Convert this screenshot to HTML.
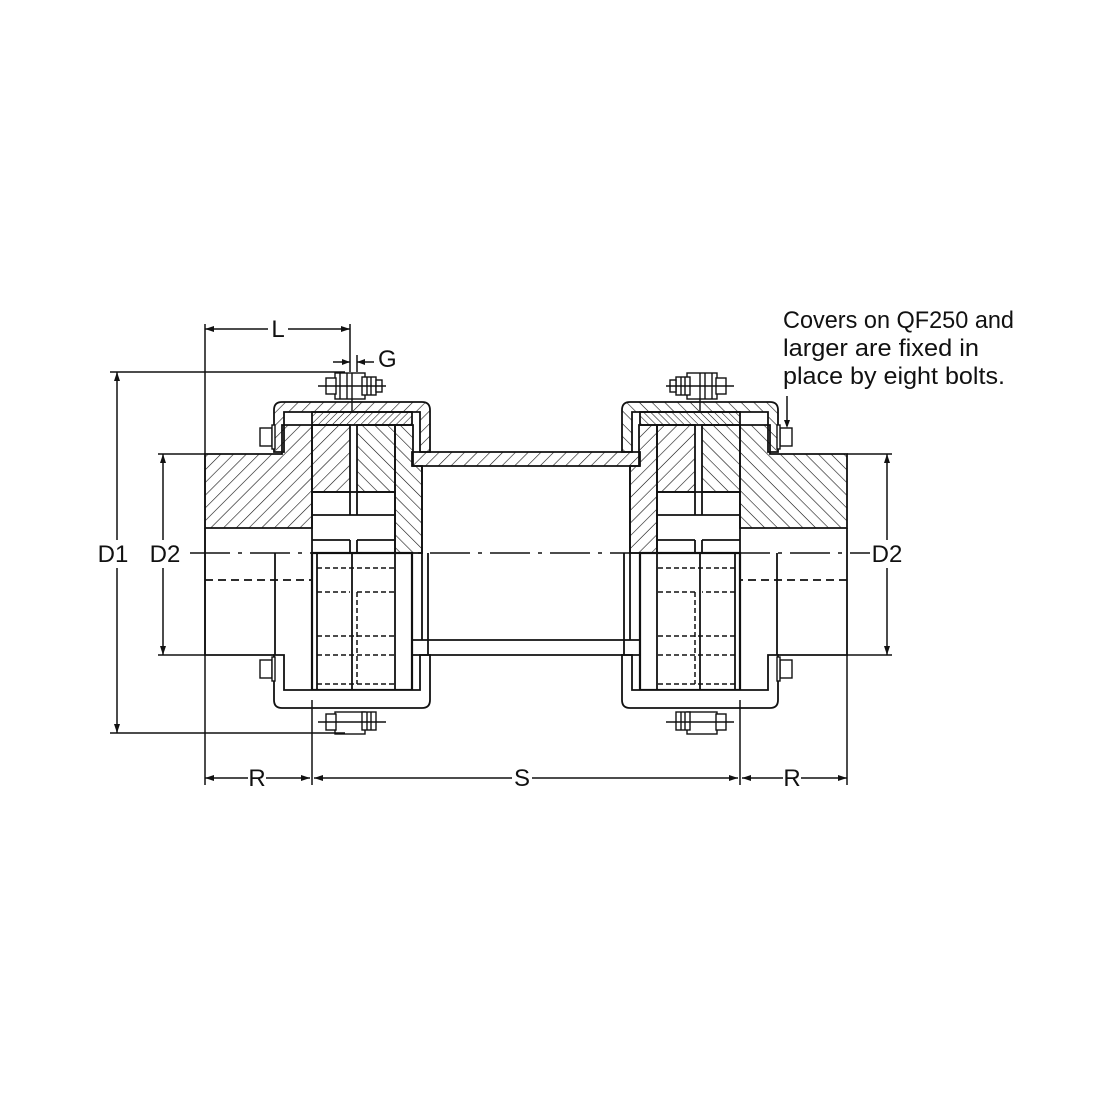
<!DOCTYPE html>
<html><head><style>
html,body{margin:0;padding:0;background:#fff;}
svg{display:block}
text{font-family:"Liberation Sans Narrow","Liberation Sans",sans-serif;fill:#111}
</style></head><body>
<svg width="1100" height="1100" viewBox="0 0 1100 1100" xmlns="http://www.w3.org/2000/svg">
<defs>
<pattern id="h1" width="9" height="9" patternUnits="userSpaceOnUse" patternTransform="rotate(45)"><line x1="0" y1="0" x2="0" y2="9" stroke="#111" stroke-width="1.2"/></pattern>
<pattern id="h2" width="9" height="9" patternUnits="userSpaceOnUse" patternTransform="rotate(-45)"><line x1="0" y1="0" x2="0" y2="9" stroke="#111" stroke-width="1.2"/></pattern>
<pattern id="h3" width="5" height="5" patternUnits="userSpaceOnUse" patternTransform="rotate(45)"><line x1="0" y1="0" x2="0" y2="5" stroke="#111" stroke-width="1.1"/></pattern>
<g id="half" stroke="#111" fill="none" stroke-width="1.8">
  <path d="M205,454 H282 V425 H312 V528 H205 Z" fill="url(#h1)"/>
  <path d="M205,528 V655 H274"/>
  <line x1="275" y1="553" x2="275" y2="655"/>
  <line x1="205" y1="580" x2="312" y2="580" stroke-dasharray="8,5"/>
  <rect x="312" y="412" width="100" height="13" fill="url(#h3)"/>
  <rect x="312" y="425" width="38" height="67" fill="url(#h1)"/>
  <rect x="357" y="425" width="38" height="67" fill="url(#h2)"/>
  <path d="M395,425 H413 V466 H422 V553 H395 Z" fill="url(#h2)"/>
  <path d="M274,452 V410 Q274,402 282,402 H422 Q430,402 430,410 V452 H420 V412 H284 V452 Z" fill="url(#h1)"/>
  <rect x="312" y="492" width="83" height="61"/>
  <line x1="312" y1="515" x2="395" y2="515"/>
  <line x1="312" y1="540" x2="350" y2="540"/>
  <line x1="357" y1="540" x2="395" y2="540"/>
  <line x1="350" y1="492" x2="350" y2="515"/>
  <line x1="357" y1="492" x2="357" y2="515"/>
  <line x1="350" y1="540" x2="350" y2="553"/>
  <line x1="357" y1="540" x2="357" y2="553"/>
  <rect x="312" y="553" width="100" height="137" stroke-width="2.2"/>
  <line x1="317" y1="553" x2="317" y2="690"/>
  <line x1="395" y1="553" x2="395" y2="690"/>
  <line x1="352" y1="553" x2="352" y2="708"/>
  <g stroke-dasharray="5,3" stroke-width="1.5">
    <line x1="317" y1="568" x2="395" y2="568"/>
    <line x1="317" y1="592" x2="350" y2="592"/><line x1="357" y1="592" x2="395" y2="592"/>
    <line x1="317" y1="636" x2="395" y2="636"/>
    <line x1="317" y1="655" x2="395" y2="655"/>
    <line x1="317" y1="684" x2="395" y2="684"/>
    <line x1="357" y1="592" x2="357" y2="684"/>
  </g>
  <path d="M274,655 V700 Q274,708 282,708 H422 Q430,708 430,700 V655 H420 V690 H284 V655 Z" fill="#fff"/>
  <g stroke-width="1.4" fill="#fff">
    <rect x="335" y="373" width="30" height="26"/>
    <rect x="326" y="378" width="10" height="16"/>
    <rect x="362" y="377" width="14" height="18"/>
    <rect x="376" y="380" width="6" height="12"/>
    <line x1="318" y1="386" x2="386" y2="386"/>
    <line x1="340" y1="373" x2="340" y2="399"/><line x1="347" y1="373" x2="347" y2="399"/>
    <line x1="352" y1="373" x2="352" y2="412"/>
    <line x1="367" y1="377" x2="367" y2="395"/><line x1="371" y1="377" x2="371" y2="395"/>
    <rect x="335" y="712" width="30" height="22"/>
    <rect x="326" y="714" width="10" height="16"/>
    <rect x="362" y="712" width="14" height="18"/>
    <line x1="367" y1="712" x2="367" y2="730"/><line x1="371" y1="712" x2="371" y2="730"/>
    <line x1="318" y1="722" x2="386" y2="722"/>
    <rect x="260" y="428" width="12" height="18"/>
    <rect x="272" y="425" width="3" height="24"/>
    <rect x="260" y="660" width="12" height="18"/>
    <rect x="272" y="657" width="3" height="24"/>
  </g>
</g>
</defs>

<use href="#half"/>
<use href="#half" transform="translate(1052,0) scale(-1,1)"/>

<g stroke="#111" fill="none" stroke-width="1.8">
  <path d="M412,452 H640 V466 H412 Z" fill="url(#h1)"/>
  <line x1="422" y1="466" x2="422" y2="640"/>
  <line x1="630" y1="466" x2="630" y2="640"/>
  <line x1="428" y1="553" x2="428" y2="655"/>
  <line x1="624" y1="553" x2="624" y2="655"/>
  <line x1="412" y1="640" x2="640" y2="640"/>
  <line x1="412" y1="655" x2="640" y2="655"/>
  <line x1="190" y1="553" x2="870" y2="553" stroke-dasharray="40,8,4,8" stroke-width="1.4"/>
</g>

<g stroke="#111" stroke-width="1.5" fill="none">
  <line x1="110" y1="372" x2="345" y2="372"/>
  <line x1="110" y1="733" x2="345" y2="733"/>
  <line x1="117" y1="372" x2="117" y2="540"/><line x1="117" y1="568" x2="117" y2="733"/>
  <line x1="158" y1="454" x2="205" y2="454"/>
  <line x1="158" y1="655" x2="205" y2="655"/>
  <line x1="163" y1="454" x2="163" y2="540"/><line x1="163" y1="568" x2="163" y2="655"/>
  <line x1="847" y1="454" x2="892" y2="454"/>
  <line x1="847" y1="655" x2="892" y2="655"/>
  <line x1="887" y1="454" x2="887" y2="540"/><line x1="887" y1="568" x2="887" y2="655"/>
  <line x1="205" y1="324" x2="205" y2="785"/>
  <line x1="350" y1="324" x2="350" y2="372"/>
  <line x1="357" y1="355" x2="357" y2="372"/>
  <line x1="205" y1="329" x2="268" y2="329"/><line x1="288" y1="329" x2="350" y2="329"/>
  <line x1="333" y1="362" x2="350" y2="362"/><line x1="357" y1="362" x2="374" y2="362"/>
  <line x1="312" y1="700" x2="312" y2="785"/>
  <line x1="740" y1="700" x2="740" y2="785"/>
  <line x1="847" y1="655" x2="847" y2="785"/>
  <line x1="205" y1="778" x2="248" y2="778"/><line x1="266" y1="778" x2="310" y2="778"/>
  <line x1="314" y1="778" x2="512" y2="778"/><line x1="532" y1="778" x2="738" y2="778"/>
  <line x1="742" y1="778" x2="783" y2="778"/><line x1="801" y1="778" x2="847" y2="778"/>
  <line x1="787" y1="396" x2="787" y2="426"/>
</g>
<g fill="#111">
  <path d="M205,329 l9,-3 v6z M350,329 l-9,-3 v6z M117,372 l-3,9 h6z M117,733 l-3,-9 h6z M163,454 l-3,9 h6z M163,655 l-3,-9 h6z M887,454 l-3,9 h6z M887,655 l-3,-9 h6z M205,778 l9,-3 v6z M310,778 l-9,-3 v6z M314,778 l9,-3 v6z M738,778 l-9,-3 v6z M742,778 l9,-3 v6z M847,778 l-9,-3 v6z M350,362 l-8,-3 v6z M357,362 l8,-3 v6z M787,428 l-3,-8 h6z"/>
</g>
<g font-size="24">
  <text x="278" y="337" text-anchor="middle">L</text>
  <text x="378" y="367">G</text>
  <text x="113" y="562" text-anchor="middle">D1</text>
  <text x="165" y="562" text-anchor="middle">D2</text>
  <text x="887" y="562" text-anchor="middle">D2</text>
  <text x="257" y="786" text-anchor="middle">R</text>
  <text x="522" y="786" text-anchor="middle">S</text>
  <text x="792" y="786" text-anchor="middle">R</text>
  <text x="783" y="328" textLength="231" lengthAdjust="spacingAndGlyphs">Covers on QF250 and</text>
  <text x="783" y="356" textLength="196" lengthAdjust="spacingAndGlyphs">larger are fixed in</text>
  <text x="783" y="384" textLength="222" lengthAdjust="spacingAndGlyphs">place by eight bolts.</text>
</g>
</svg>
</body></html>
